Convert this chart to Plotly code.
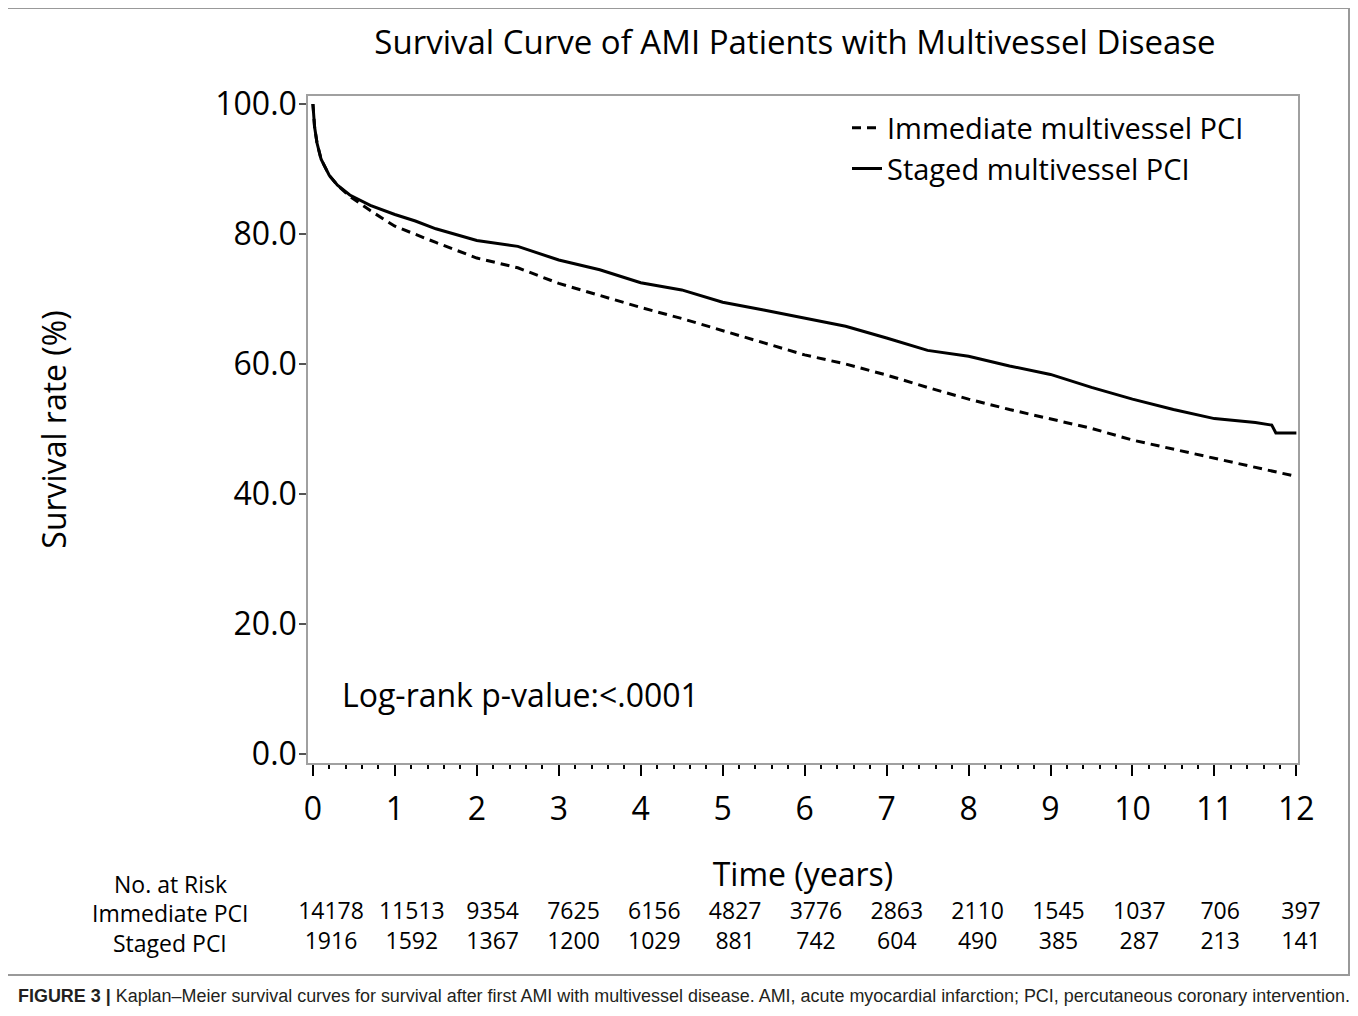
import plotly.graph_objects as go

# ---------------- data ----------------
time_imm = [0, 0.02, 0.05, 0.1, 0.2, 0.3, 0.45, 0.7, 1.0, 1.25, 1.5, 2.0, 2.5, 3.0, 3.5,
            4.0, 4.5, 5.0, 5.5, 6.0, 6.5, 7.0, 7.5, 8.0, 8.5, 9.0, 9.5, 10.0, 10.5,
            11.0, 11.5, 12.0]
surv_imm = [100, 96.5, 94.0, 91.5, 89.0, 87.5, 85.8, 83.6, 81.2, 79.9, 78.7, 76.3, 74.8,
            72.4, 70.5, 68.7, 67.0, 65.1, 63.3, 61.4, 60.0, 58.3, 56.4, 54.6, 53.0,
            51.5, 50.1, 48.3, 46.9, 45.6, 44.1, 42.7]

time_stg = [0, 0.02, 0.05, 0.1, 0.2, 0.3, 0.45, 0.7, 1.0, 1.25, 1.5, 2.0, 2.5, 3.0, 3.5,
            4.0, 4.5, 5.0, 5.5, 6.0, 6.5, 7.0, 7.5, 8.0, 8.5, 9.0, 9.5, 10.0, 10.5,
            11.0, 11.5, 11.7, 11.75, 12.0]
surv_stg = [100, 96.5, 94.0, 91.5, 89.0, 87.5, 86.0, 84.4, 83.0, 82.0, 80.8, 79.0, 78.1,
            76.0, 74.5, 72.5, 71.4, 69.5, 68.3, 67.0, 65.8, 64.0, 62.1, 61.2, 59.7,
            58.4, 56.4, 54.6, 53.0, 51.6, 51.0, 50.6, 49.4, 49.4]

risk_times = [0, 1, 2, 3, 4, 5, 6, 7, 8, 9, 10, 11, 12]
risk_imm = [14178, 11513, 9354, 7625, 6156, 4827, 3776, 2863, 2110, 1545, 1037, 706, 397]
risk_stg = [1916, 1592, 1367, 1200, 1029, 881, 742, 604, 490, 385, 287, 213, 141]

y_ticks = [0, 20, 40, 60, 80, 100]
x_ticks = list(range(0, 13))

FONT = "Open Sans"
RISK_SIZE = 23


def px(refx):   # reference-page x pixel -> paper x
    return (refx - 308) / 1030


def py(refy):   # reference-page y pixel -> paper y
    return (960 - refy) / 864


fig = go.Figure()

fig.add_trace(go.Scatter(
    x=time_imm, y=surv_imm, mode="lines", name="Immediate multivessel PCI",
    line=dict(color="black", width=3, dash="9px,6px"), hoverinfo="skip"))
fig.add_trace(go.Scatter(
    x=time_stg, y=surv_stg, mode="lines", name="Staged multivessel PCI",
    line=dict(color="black", width=3), hoverinfo="skip"))

# risk table rows (row 1 = Immediate, row 0 = Staged)
fig.add_trace(go.Scatter(
    x=risk_times, y=[1] * len(risk_times), text=[str(v) for v in risk_imm],
    mode="text", textfont=dict(family=FONT, size=RISK_SIZE, color="black"),
    xaxis="x2", yaxis="y2", showlegend=False, cliponaxis=False, hoverinfo="skip"))
fig.add_trace(go.Scatter(
    x=risk_times, y=[0] * len(risk_times), text=[str(v) for v in risk_stg],
    mode="text", textfont=dict(family=FONT, size=RISK_SIZE, color="black"),
    xaxis="x2", yaxis="y2", showlegend=False, cliponaxis=False, hoverinfo="skip"))

fig.update_layout(
    width=1342, height=1000, autosize=False,
    margin=dict(l=300, r=12, t=88, b=48, autoexpand=False),
    paper_bgcolor="white", plot_bgcolor="white",
    font=dict(family=FONT, color="black"),
    title=dict(text="Survival Curve of AMI Patients with Multivessel Disease",
               x=px(795), xref="paper", xanchor="center",
               y=1 - 34 / 1000, yref="container", yanchor="middle",
               font=dict(family=FONT, size=33, color="black")),
    showlegend=True,
    legend=dict(x=px(847), xanchor="left", y=py(102.5), yanchor="top",
                bgcolor="rgba(0,0,0,0)", borderwidth=0,
                font=dict(family=FONT, size=29, color="black")),
    xaxis=dict(domain=[0, 990 / 1030], range=[-0.06, 12.02], tickvals=x_ticks,
               ticks="outside", ticklen=11, tickwidth=1.5, tickcolor="black",
               minor=dict(dtick=0.2, ticks="outside", ticklen=4, tickwidth=1.5,
                          tickcolor="black"),
               showline=True, linecolor="#a0a0a0", linewidth=1.5, mirror=True,
               showgrid=False, zeroline=False, ticklabelstandoff=6, automargin=False,
               tickfont=dict(family=FONT, size=32, color="black"),
               title=dict(text="Time (years)", standoff=35,
                          font=dict(family=FONT, size=32, color="black")),
               anchor="y"),
    yaxis=dict(domain=[py(763), 1], range=[-1.38, 101.23], tickvals=y_ticks,
               tickformat=".1f", ticks="outside", ticklen=7, tickwidth=1.5,
               tickcolor="#555555", ticklabelstandoff=-4, automargin=False,
               showline=True, linecolor="#a0a0a0", linewidth=1.5, mirror=True,
               showgrid=False, zeroline=False,
               tickfont=dict(family=FONT, size=32, color="black"),
               title=dict(text="Survival rate (%)", standoff=139,
                          font=dict(family=FONT, size=32, color="black")),
               anchor="x"),
    xaxis2=dict(domain=[0, 1], range=[-0.2846, 12.458], visible=False, anchor="y2",
                automargin=False),
    yaxis2=dict(domain=[0, 0.1], range=[-0.567, 2.313], visible=False, anchor="x2",
                automargin=False),
)

# p-value annotation
fig.add_annotation(text="Log-rank p-value:<.0001", x=0.33, y=9.23, xref="x", yref="y",
                   xanchor="left", yanchor="middle", showarrow=False,
                   font=dict(family=FONT, size=32, color="black"))

# risk table labels
for txt, ypix in [("No. at Risk", 884), ("Immediate PCI", 913), ("Staged PCI", 943)]:
    fig.add_annotation(text=txt, x=px(170), y=py(ypix),
                       xref="paper", yref="paper", xanchor="center", yanchor="middle",
                       showarrow=False, font=dict(family=FONT, size=RISK_SIZE, color="black"))

# caption
fig.add_annotation(
    text="<b>FIGURE 3 |</b> Kaplan–Meier survival curves for survival after first AMI with "
         "multivessel disease. AMI, acute myocardial infarction; PCI, percutaneous coronary intervention.",
    x=px(16), y=py(996), xref="paper", yref="paper",
    xanchor="left", yanchor="middle", showarrow=False,
    font=dict(family="Liberation Sans", size=17.95, color="#231f20"))

# outer frame
fig.add_shape(type="rect", xref="paper", yref="paper",
              x0=px(7), x1=px(1349), y0=py(975), y1=py(8),
              line=dict(color="#999999", width=2), fillcolor="rgba(0,0,0,0)", layer="below")

fig.write_html("out.html")
